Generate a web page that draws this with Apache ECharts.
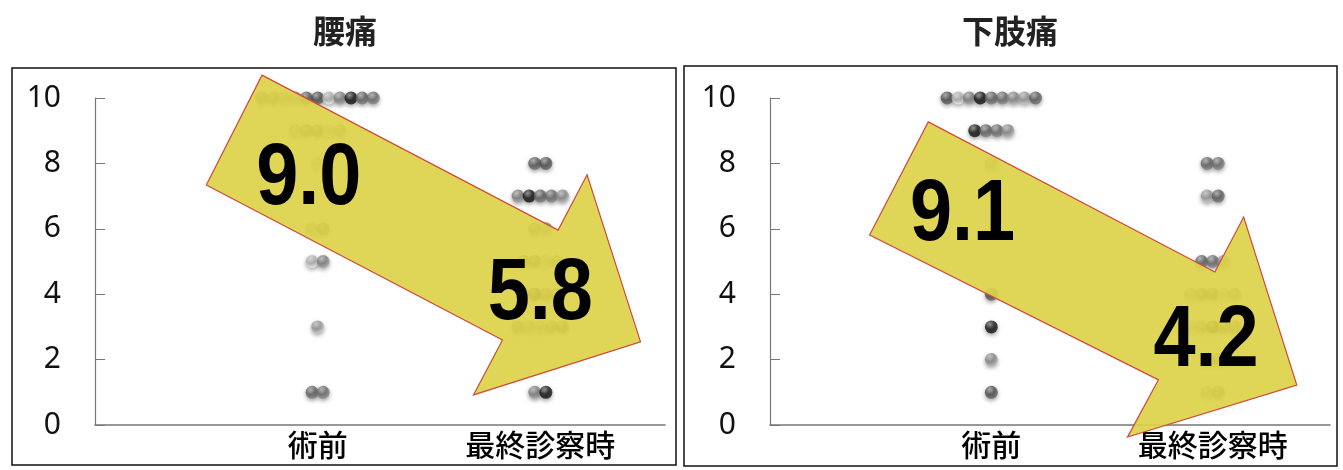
<!DOCTYPE html>
<html>
<head>
<meta charset="utf-8">
<script src="https://cdn.jsdelivr.net/npm/echarts@6/dist/echarts.min.js"></script>
<style>
html, body { margin: 0; padding: 0; background: #fff; }
#main { width: 1343px; height: 470px; }
</style>
</head>
<body>
<div id="main"></div>
<script>
var panelTitles = ['腰痛', '下肢痛'];
var categories = ['術前', '最終診察時'];
var scores = [10, 9, 8, 7, 6, 5, 4, 3, 2, 1, 0];
var yTicks = [0, 2, 4, 6, 8, 10];

// number of patients at each score (same order as scores)
var lowBackPre  = [11, 5, 1, 0, 2, 2, 0, 1, 0, 2, 0];
var lowBackPost = [0, 0, 2, 5, 2, 4, 4, 5, 0, 2, 0];
var legPre      = [9, 4, 1, 0, 0, 0, 1, 1, 1, 1, 0];
var legPost     = [0, 0, 2, 2, 0, 3, 5, 5, 2, 2, 0];

var meanLabels = [['9.0', '5.8'], ['9.1', '4.2']];

// arrow outline in data units (x: category position, y: score)
var arrowLowBack = [[0.75, 10.7], [2.08, 5.96], [2.21, 7.65], [2.45, 2.54], [1.70, 0.92], [1.83, 2.60], [0.50, 7.34]];
var arrowLeg     = [[0.715, 9.27], [2.01, 4.68], [2.14, 6.36], [2.38, 1.22], [1.615, -0.37], [1.755, 1.38], [0.45, 5.81]];
// where the mean labels sit, data units
var meanPosLowBack = [[0.96, 7.49], [2.0, 3.98]];
var meanPosLeg     = [[0.87, 6.39], [1.97, 2.54]];

var panels = [
	{pre: lowBackPre, post: lowBackPost, arrow: arrowLowBack, meanPos: meanPosLowBack,
		grid: {left: 95, top: 98, width: 570, height: 327}, xMax: 2.56, titleX: 345, frame: [12, 68, 664, 397]},
	{pre: legPre, post: legPost, arrow: arrowLeg, meanPos: meanPosLeg,
		grid: {left: 770, top: 98, width: 560, height: 327}, xMax: 2.53, titleX: 1010, frame: [684, 66, 653, 400]}
];

var shades = ['#5e5e5e', '#7a7a7a', '#4a4a4a', '#939393', '#666666', '#111111', '#b0b0b0', '#555555', '#848484'];
var DOT_STEP = 0.05;

function sphere(base) {
	var c = echarts.color;
	return {
		type: 'radial', x: 0.38, y: 0.3, r: 0.75,
		colorStops: [
			{offset: 0, color: c.lift(base, 0.5)},
			{offset: 0.5, color: base},
			{offset: 1, color: c.lift(base, -0.45)}
		]
	};
}

function buildDots(counts, catX, seed) {
	var items = [];
	for (var i = 0; i < scores.length; i++) {
		var n = counts[i];
		for (var k = 0; k < n; k++) {
			var x = catX + (k - (n - 1) / 2) * DOT_STEP;
			var shade = shades[(k * 4 + i * 3 + seed) % shades.length];
			items.push({value: [x, scores[i]], itemStyle: {color: sphere(shade)}});
		}
	}
	return items;
}

var option = {
	animation: false,
	backgroundColor: '#fff',
	grid: [], xAxis: [], yAxis: [], series: []
};

panels.forEach(function (p, pi) {
	option.grid.push(p.grid);
	option.xAxis.push({
		type: 'value', gridIndex: pi, min: 0, max: p.xMax, interval: 1,
		axisLine: {show: true, lineStyle: {color: '#777', width: 1.5}},
		axisTick: {show: false},
		splitLine: {show: false},
		axisLabel: {
			margin: 5, fontSize: 30, color: '#000', fontWeight: 500, fontFamily: 'Noto Sans CJK JP',
			formatter: function (v) {
				if (v === 1) return categories[0];
				if (v === 2) return categories[1];
				return '';
			}
		}
	});
	option.yAxis.push({
		type: 'value', gridIndex: pi, min: yTicks[0], max: yTicks[yTicks.length - 1], interval: 2,
		axisLine: {show: true, lineStyle: {color: '#777', width: 1.2}},
		axisTick: {show: true, inside: true, length: 10, lineStyle: {color: '#777'}},
		splitLine: {show: false},
		axisLabel: {margin: 34, fontSize: 30, color: '#111', fontFamily: 'Noto Sans'}
	});
	[p.pre, p.post].forEach(function (counts, ci) {
		option.series.push({
			type: 'scatter', xAxisIndex: pi, yAxisIndex: pi,
			symbolSize: 13, clip: false, z: 2,
			itemStyle: {shadowBlur: 4, shadowOffsetY: 2, shadowColor: 'rgba(0,0,0,0.45)'},
			data: buildDots(counts, ci + 1, pi * 2 + ci)
		});
	});
});

var chart = echarts.init(document.getElementById('main'));
chart.setOption(option);

// overlays: frames, titles, arrows and mean labels
var graphics = [];
panels.forEach(function (p, pi) {
	graphics.push({
		type: 'rect', z: 1,
		shape: {x: p.frame[0], y: p.frame[1], width: p.frame[2], height: p.frame[3]},
		style: {fill: 'none', stroke: '#111', lineWidth: 1.5}
	});
	graphics.push({
		type: 'text', x: p.titleX, y: 31, z: 20,
		style: {text: panelTitles[pi], align: 'center', verticalAlign: 'middle',
			font: 'bold 32px "Noto Sans CJK JP"', fill: '#222'}
	});
	var pts = p.arrow.map(function (d) {
		return chart.convertToPixel({gridIndex: pi}, d);
	});
	graphics.push({
		type: 'polygon', z: 10,
		shape: {points: pts},
		style: {fill: 'rgba(220,209,72,0.92)', stroke: '#cf4a3c', lineWidth: 1.2}
	});
	p.meanPos.forEach(function (d, mi) {
		var xy = chart.convertToPixel({gridIndex: pi}, d);
		graphics.push({
			type: 'text', x: xy[0], y: xy[1], scaleX: 0.86, z: 11,
			style: {text: meanLabels[pi][mi], align: 'center', verticalAlign: 'middle',
				font: 'bold 88px "Liberation Sans"', fill: '#000'}
		});
	});
});
chart.setOption({graphic: graphics});
</script>
</body>
</html>
